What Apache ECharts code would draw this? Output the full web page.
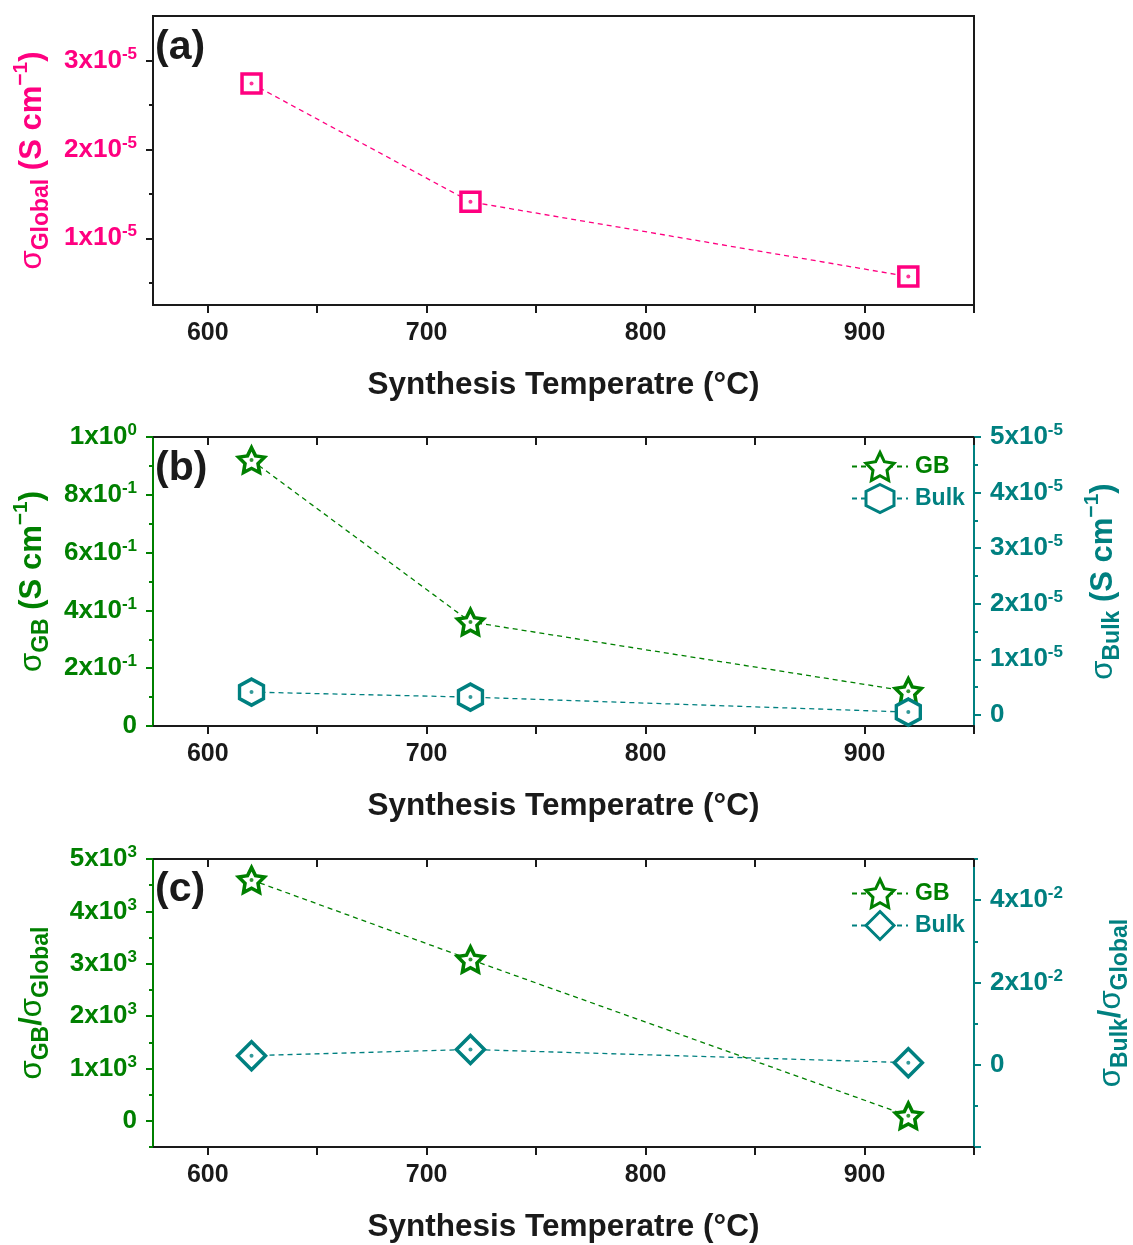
<!DOCTYPE html>
<html>
<head>
<meta charset="utf-8">
<script src="https://cdn.jsdelivr.net/npm/echarts@6/dist/echarts.min.js"></script>
<style>
html,body{margin:0;padding:0;background:#fff;}
#chart{width:1133px;height:1245px;}
</style>
</head>
<body>
<div id="chart"></div>
<script>
// ---------- data ----------
const temps = [620, 720, 920];                       // °C
const sigmaGlobal = [2.74e-5, 1.41e-5, 0.57e-5];     // S cm^-1
const sigmaGB = [0.92, 0.36, 0.12];                  // S cm^-1
const sigmaBulk = [0.41e-5, 0.32e-5, 0.05e-5];       // S cm^-1
const ratioGB = [4600, 3080, 95];                    // σGB/σGlobal
const ratioBulk = [0.0022, 0.0037, 0.0005];          // σBulk/σGlobal

// ---------- tick values ----------
const xLabelVals = [600, 700, 800, 900];
const xTickVals = [600, 650, 700, 750, 800, 850, 900, 950];
const aMajor = [1e-5, 2e-5, 3e-5];
const aMinor = [0.5e-5, 1.5e-5, 2.5e-5];
const bLeftMajor = [0, 0.2, 0.4, 0.6, 0.8, 1.0];
const bLeftMinor = [0.1, 0.3, 0.5, 0.7, 0.9];
const bRightMajor = [0, 1e-5, 2e-5, 3e-5, 4e-5, 5e-5];
const bRightMinor = [0.5e-5, 1.5e-5, 2.5e-5, 3.5e-5, 4.5e-5];
const cLeftMajor = [0, 1000, 2000, 3000, 4000, 5000];
const cLeftMinor = [-500, 500, 1500, 2500, 3500, 4500];
const cRightMajor = [0, 0.02, 0.04];
const cRightTicks = [-0.02, 0, 0.02, 0.04];
const cRightMinor = [-0.01, 0.01, 0.03, 0.05];

const PINK = '#FF0080', GREEN = '#008000', TEAL = '#008080', BLACK = '#1a1a1a';
const FONT = '"Liberation Sans", Arial, sans-serif';

function sciLabel(v) {
  if (Math.abs(v) < 1e-12) return '{m|0}';
  const e = Math.floor(Math.log10(Math.abs(v)) + 1e-9);
  const m = Math.round(v / Math.pow(10, e));
  return '{m|' + m + 'x10}{s|' + e + '}';
}
function labelRich(color) {
  return {
    m: {fontSize: 26, fontWeight: 'bold', color: color, fontFamily: FONT, lineHeight: 30},
    s: {fontSize: 17, fontWeight: 'bold', color: color, fontFamily: FONT, lineHeight: 17, verticalAlign: 'top'}
  };
}
function nameRich(color) {
  return {
    g: {fontSize: 31, fontWeight: 'normal', color: color, fontFamily: FONT, lineHeight: 42},
    t: {fontSize: 31, fontWeight: 'bold', color: color, fontFamily: FONT, lineHeight: 42},
    sub: {fontSize: 23, fontWeight: 'bold', color: color, fontFamily: FONT, lineHeight: 23, verticalAlign: 'bottom'},
    sup: {fontSize: 21, fontWeight: 'bold', color: color, fontFamily: FONT, lineHeight: 21, verticalAlign: 'top'}
  };
}

const grids = [
  {left: 153, top: 16, width: 821, height: 289},
  {left: 153, top: 437, width: 821, height: 289},
  {left: 153, top: 859, width: 821, height: 288}
].map(g => Object.assign(g, {show: true, borderColor: BLACK, borderWidth: 2, backgroundColor: 'transparent',
  containLabel: false, outerBoundsMode: 'none'}));

function bottomX(gi) {
  return {
    type: 'value', gridIndex: gi, position: 'bottom', min: 575, max: 950,
    axisLine: {show: true, onZero: false, lineStyle: {color: BLACK, width: 2}},
    axisTick: {show: true, inside: false, length: 8, lineStyle: {color: BLACK, width: 2}, customValues: xTickVals},
    axisLabel: {show: true, margin: 16, fontSize: 25, fontWeight: 'bold', color: BLACK, fontFamily: FONT, customValues: xLabelVals},
    splitLine: {show: false},
    name: 'Synthesis Temperatre (°C)', nameLocation: 'middle', nameGap: 64,
    nameTextStyle: {fontSize: 31.5, fontWeight: 'bold', color: BLACK, fontFamily: FONT}
  };
}
function topX(gi) {
  return {
    type: 'value', gridIndex: gi, position: 'top', min: 575, max: 950,
    axisLine: {show: true, onZero: false, lineStyle: {color: BLACK, width: 2}},
    axisTick: {show: true, inside: true, length: 8, lineStyle: {color: BLACK, width: 2}, customValues: xTickVals},
    axisLabel: {show: false}, splitLine: {show: false}
  };
}
function yAx(gi, pos, min, max, color, ticks, labels, name, nameGap) {
  const lineColor = color === PINK ? BLACK : color;
  const ax = {
    type: 'value', gridIndex: gi, position: pos, min: min, max: max,
    axisLine: {show: true, onZero: false, lineStyle: {color: lineColor, width: 2}},
    axisTick: {show: true, inside: false, length: 7, lineStyle: {color: lineColor, width: 2}, customValues: ticks},
    axisLabel: {show: true, margin: 16, customValues: labels, formatter: sciLabel, rich: labelRich(color)},
    splitLine: {show: false}
  };
  if (name) {
    ax.name = name; ax.nameLocation = 'middle'; ax.nameGap = nameGap; ax.nameRotate = 90;
    ax.nameTextStyle = {rich: nameRich(color)};
  }
  return ax;
}
function yMinor(gi, pos, min, max, color, ticks) {
  return {
    type: 'value', gridIndex: gi, position: pos, min: min, max: max,
    axisLine: {show: false, onZero: false},
    axisTick: {show: true, inside: false, length: 4, lineStyle: {color: color === PINK ? BLACK : color, width: 2}, customValues: ticks},
    axisLabel: {show: false}, splitLine: {show: false}
  };
}

const starPath = 'path://M50,0L64.7,29.8L97.6,34.5L73.8,57.7L79.4,90.5L50,75L20.6,90.5L26.2,57.7L2.4,34.5L35.3,29.8Z';
const hexPath = 'path://M50,0L93.3,25L93.3,75L50,100L6.7,75L6.7,25Z';

function pts(ys) { return temps.map((t, i) => [t, ys[i]]); }
function lineSeries(name, xi, yi, ys, color, symbol, size) {
  return {
    type: 'line', name: name, xAxisIndex: xi, yAxisIndex: yi, data: pts(ys),
    symbol: symbol, symbolSize: size, showSymbol: true, z: 3,
    lineStyle: {color: color, width: 1.3, type: [5, 4]},
    itemStyle: {color: '#ffffff', borderColor: color, borderWidth: 3.5},
    emphasis: {disabled: true}, animation: false
  };
}
function dotSeries(xi, yi, ys, color) {
  return {
    type: 'scatter', xAxisIndex: xi, yAxisIndex: yi, data: pts(ys),
    symbol: 'circle', symbolSize: 4, z: 5, itemStyle: {color: color},
    emphasis: {disabled: true}, animation: false, silent: true
  };
}
function legendAt(top, names, colors) {
  return {
    orient: 'vertical', left: 851, top: top, padding: 0, itemGap: 1,
    itemWidth: 56, itemHeight: 35, selectedMode: false,
    formatter: n => n.split(' ')[0],
    itemStyle: {borderWidth: 3},
    textStyle: {fontSize: 23, fontWeight: 'bold', fontFamily: FONT, padding: [0, 0, 0, 2]},
    data: names.map((n, i) => ({name: n, textStyle: {color: colors[i]}}))
  };
}

const option = {
  animation: false,
  backgroundColor: '#ffffff',
  grid: grids,
  xAxis: [bottomX(0), bottomX(1), topX(1), bottomX(2), topX(2)],
  yAxis: [
    yAx(0, 'left', 0.25e-5, 3.5e-5, PINK, aMajor, aMajor,
        '{g|σ}{sub|Global}{t| (S cm}{sup|−1}{t|)}', 100),
    yMinor(0, 'left', 0.25e-5, 3.5e-5, PINK, aMinor),
    yAx(1, 'left', 0, 1, GREEN, bLeftMajor, bLeftMajor,
        '{g|σ}{sub|GB}{t| (S cm}{sup|−1}{t|)}', 100),
    yMinor(1, 'left', 0, 1, GREEN, bLeftMinor),
    yAx(1, 'right', -0.2e-5, 5e-5, TEAL, bRightMajor, bRightMajor,
        '{g|σ}{sub|Bulk}{t| (S cm}{sup|−1}{t|)}', 108),
    yMinor(1, 'right', -0.2e-5, 5e-5, TEAL, bRightMinor),
    yAx(2, 'left', -500, 5000, GREEN, cLeftMajor, cLeftMajor,
        '{g|σ}{sub|GB}{t|/}{g|σ}{sub|Global}', 100),
    yMinor(2, 'left', -500, 5000, GREEN, cLeftMinor),
    yAx(2, 'right', -0.02, 0.05, TEAL, cRightTicks, cRightMajor,
        '{g|σ}{sub|Bulk}{t|/}{g|σ}{sub|Global}', 116),
    yMinor(2, 'right', -0.02, 0.05, TEAL, cRightMinor)
  ],
  legend: [
    legendAt(451, ['GB b', 'Bulk b'], [GREEN, TEAL]),
    legendAt(878, ['GB c', 'Bulk c'], [GREEN, TEAL])
  ],
  series: [
    lineSeries('Global a', 0, 0, sigmaGlobal, PINK, 'rect', 19),
    dotSeries(0, 0, sigmaGlobal, PINK),
    lineSeries('GB b', 1, 2, sigmaGB, GREEN, starPath, [26, 25]),
    dotSeries(1, 2, sigmaGB, GREEN),
    lineSeries('Bulk b', 1, 4, sigmaBulk, TEAL, hexPath, [24, 26]),
    dotSeries(1, 4, sigmaBulk, TEAL),
    lineSeries('GB c', 3, 6, ratioGB, GREEN, starPath, [26, 25]),
    dotSeries(3, 6, ratioGB, GREEN),
    lineSeries('Bulk c', 3, 8, ratioBulk, TEAL, 'diamond', [28, 28]),
    dotSeries(3, 8, ratioBulk, TEAL)
  ],
  graphic: [
    {type: 'text', left: 155, top: 27, style: {text: '(a)', fontSize: 41, fontWeight: 'bold', fill: BLACK, fontFamily: FONT}},
    {type: 'text', left: 155, top: 448, style: {text: '(b)', fontSize: 41, fontWeight: 'bold', fill: BLACK, fontFamily: FONT}},
    {type: 'text', left: 155, top: 869, style: {text: '(c)', fontSize: 41, fontWeight: 'bold', fill: BLACK, fontFamily: FONT}}
  ]
};

const chart = echarts.init(document.getElementById('chart'), null, {renderer: 'canvas'});
chart.setOption(option);
</script>
</body>
</html>
